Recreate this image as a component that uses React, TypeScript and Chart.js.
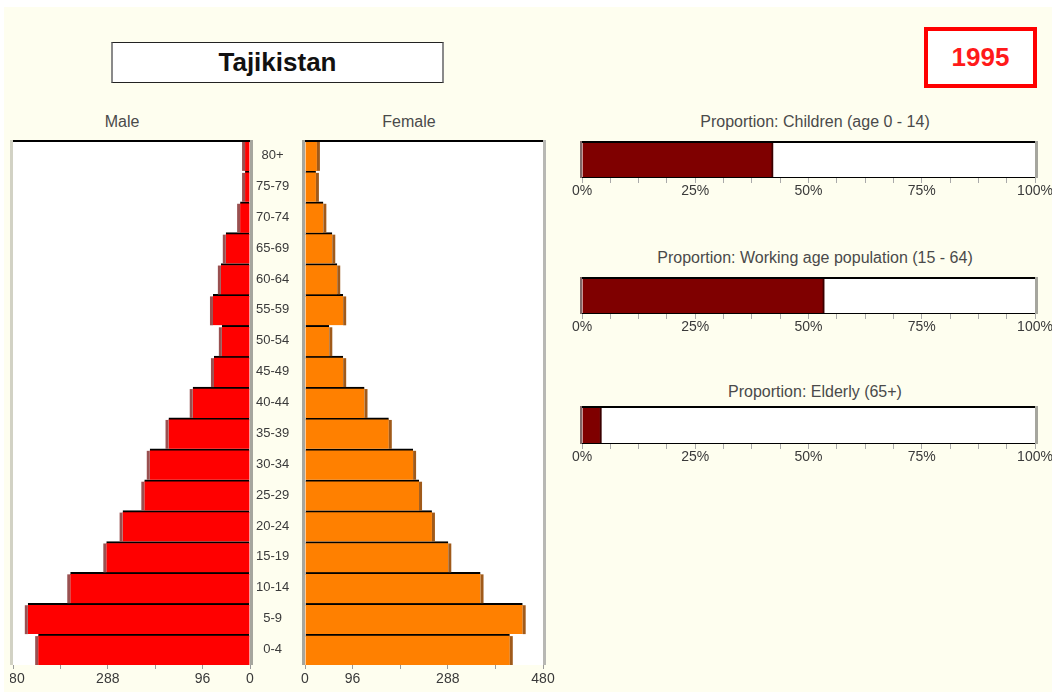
import React, { useEffect, useRef } from 'react';
import { Chart, registerables } from 'chart.js';

Chart.register(...registerables);

// ---------------- DATA ----------------
const ageGroups = ['0-4', '5-9', '10-14', '15-19', '20-24', '25-29', '30-34', '35-39', '40-44', '45-49', '50-54', '55-59', '60-64', '65-69', '70-74', '75-79', '80+'];
const maleValues = [429, 450, 364, 291, 258, 214, 203, 165, 116, 73, 57, 75, 59, 49, 20, 10, 10];
const femaleValues = [413, 439, 354, 289, 256, 230, 218, 169, 120, 77, 49, 77, 65, 55, 37, 22, 24];
const populationMax = 480;
const populationStep = 96;
const populationLabeledTicks = [0, 96, 288, 480];
const proportionTitles = ['Proportion: Children (age 0 - 14)', 'Proportion: Working age population (15 - 64)', 'Proportion: Elderly (65+)'];
const proportionValues = [42.2, 53.5, 4.3];
const percentStep = 6.25;
const percentLabeledTicks = [0, 25, 50, 75, 100];
const countryName = 'Tajikistan';
const yearLabel = '1995';
const sexLabels = ['Male', 'Female'];

// ---------------- STYLE ----------------
const FONT = '"Liberation Sans", Arial, sans-serif';
const TEXT = '#3a3a3a';
const CREAM = '#FEFEEF';

const framePlugin = {
  id: 'frame',
  beforeDraw(chart: any, _a: any, opts: any) {
    const { ctx, chartArea: a } = chart;
    if (!opts || !opts.fill) return;
    ctx.save();
    ctx.fillStyle = opts.fill;
    ctx.fillRect(a.left, a.top, a.right - a.left, a.bottom - a.top);
    ctx.restore();
  },
  afterDatasetsDraw(chart: any, _a: any, opts: any) {
    const { ctx, chartArea: a } = chart;
    const h = a.bottom - a.top;
    const w = a.right - a.left;
    ctx.save();
    if (opts.leftColor) { ctx.fillStyle = opts.leftColor; ctx.fillRect(a.left - opts.leftWidth, a.top, opts.leftWidth, h); }
    if (opts.rightColor) { ctx.fillStyle = opts.rightColor; ctx.fillRect(a.right, a.top, opts.rightWidth, h); }
    if (opts.topColor) { ctx.fillStyle = opts.topColor; ctx.fillRect(a.left, a.top, w, opts.topWidth); }
    if (opts.bottomColor) { ctx.fillStyle = opts.bottomColor; ctx.fillRect(a.left, a.bottom - opts.bottomWidth, w, opts.bottomWidth); }
    ctx.restore();
  },
};

const shadowPlugin = {
  id: 'barShadow',
  afterDatasetsDraw(chart: any, _a: any, opts: any) {
    if (!opts || !opts.color) return;
    const { ctx } = chart;
    const meta = chart.getDatasetMeta(0);
    ctx.save();
    ctx.fillStyle = opts.color;
    meta.data.forEach((el: any) => {
      const { x, y, height } = el.getProps(['x', 'y', 'height'], true);
      const top = y - height / 2 + opts.skipTop;
      const hh = height - opts.skipTop;
      if (opts.side === 'left') ctx.fillRect(x - opts.width, top, opts.width, hh);
      else ctx.fillRect(x, top, opts.width, hh);
    });
    ctx.restore();
  },
};

function pyramidConfig(side: 'male' | 'female'): any {
  const isMale = side === 'male';
  const yScale: any = isMale
    ? {
        display: true,
        position: 'right',
        reverse: true,
        ticks: { crossAlign: 'center', padding: 6, autoSkip: false, color: TEXT, font: { family: FONT, size: 13 } },
        grid: { display: false, drawTicks: false },
        border: { display: false },
        afterFit: (s: any) => { s.width = 55; s.paddingTop = 0; s.paddingBottom = 0; },
      }
    : { display: false, reverse: true };
  return {
    type: 'bar',
    data: {
      labels: ageGroups,
      datasets: [{
        data: isMale ? maleValues : femaleValues,
        backgroundColor: isMale ? '#FF0000' : '#FF8000',
        borderColor: '#000000',
        borderWidth: { top: 2, right: 0, bottom: 0, left: 0 },
        borderSkipped: false,
        barPercentage: 1,
        categoryPercentage: 1,
      }],
    },
    plugins: [framePlugin, shadowPlugin],
    options: {
      indexAxis: 'y',
      animation: false,
      responsive: false,
      maintainAspectRatio: false,
      layout: { padding: isMale ? { left: 3, right: 0, top: 6, bottom: 0 } : { left: 10, right: 17, top: 6, bottom: 0 } },
      plugins: {
        legend: { display: false },
        tooltip: { enabled: false },
        frame: isMale
          ? { fill: '#FFFFFF', topColor: '#000', topWidth: 2, leftColor: '#d2d2c4', leftWidth: 3, rightColor: '#a6a69e', rightWidth: 3 }
          : { fill: '#FFFFFF', topColor: '#000', topWidth: 2, leftColor: '#a6a69e', leftWidth: 3, rightColor: '#b8b8b4', rightWidth: 3 },
        barShadow: isMale
          ? { color: '#9a5050', side: 'left', width: 3, skipTop: 2 }
          : { color: '#a05a1a', side: 'right', width: 3, skipTop: 2 },
      },
      scales: {
        x: {
          reverse: isMale,
          min: 0,
          max: populationMax,
          ticks: {
            stepSize: populationStep,
            autoSkip: false,
            maxRotation: 0,
            padding: 2,
            color: TEXT,
            font: { family: FONT, size: 14 },
            callback: (v: number) => (populationLabeledTicks.includes(v) ? String(v) : ''),
          },
          grid: { drawOnChartArea: false, drawTicks: true, tickLength: 4, color: '#9a9a9a' },
          border: { display: false },
          afterFit: (s: any) => { s.height = 27; s.paddingLeft = 0; s.paddingRight = 0; },
        },
        y: yScale,
      },
    },
  };
}

function proportionConfig(i: number): any {
  return {
    type: 'bar',
    data: {
      labels: [proportionTitles[i]],
      datasets: [{
        data: [proportionValues[i]],
        backgroundColor: '#7F0000',
        borderColor: '#3a0000',
        borderWidth: { top: 0, right: 2, bottom: 0, left: 0 },
        borderSkipped: false,
        barPercentage: 1,
        categoryPercentage: 1,
      }],
    },
    plugins: [framePlugin],
    options: {
      indexAxis: 'y',
      animation: false,
      responsive: false,
      maintainAspectRatio: false,
      layout: { padding: { left: 22, right: 17, top: 6, bottom: 0 } },
      plugins: {
        legend: { display: false },
        tooltip: { enabled: false },
        frame: { fill: '#FFFFFF', topColor: '#000', topWidth: 2, bottomColor: '#000', bottomWidth: 1, leftColor: '#806868', leftWidth: 2, rightColor: '#a6a69e', rightWidth: 3 },
      },
      scales: {
        x: {
          min: 0,
          max: 100,
          ticks: {
            stepSize: percentStep,
            autoSkip: false,
            maxRotation: 0,
            padding: 0,
            color: TEXT,
            font: { family: FONT, size: 14 },
            callback: (v: number) => (percentLabeledTicks.includes(v) ? `${v}%` : ''),
          },
          grid: { drawOnChartArea: false, drawTicks: true, tickLength: 5, color: '#aaaaaa' },
          border: { display: false },
          afterFit: (s: any) => { s.height = 22; s.paddingLeft = 0; s.paddingRight = 0; },
        },
        y: { display: false },
      },
    },
  };
}

function ChartCanvas({ left, top, width, height, build }: { left: number; top: number; width: number; height: number; build: () => any }) {
  const ref = useRef<HTMLCanvasElement>(null);
  useEffect(() => {
    const chart = new Chart(ref.current as HTMLCanvasElement, build());
    return () => chart.destroy();
  }, []);
  return (
    <canvas
      ref={ref}
      width={width}
      height={height}
      style={{ position: 'absolute', left, top, width, height }}
    />
  );
}

const labelStyle: React.CSSProperties = {
  position: 'absolute',
  fontFamily: FONT,
  fontSize: 16,
  lineHeight: '20px',
  color: '#4a4a4a',
  textAlign: 'center',
  whiteSpace: 'nowrap',
};

const propLayout = [
  { titleTop: 112, canvasTop: 135, height: 65 },
  { titleTop: 248, canvasTop: 271, height: 65 },
  { titleTop: 382, canvasTop: 400, height: 66 },
];

export default function App() {
  return (
    <div style={{ position: 'fixed', left: 0, top: 0, width: 1052, height: 692, background: '#FFFFFF', overflow: 'hidden' }}>
      <div style={{ position: 'absolute', left: 4, top: 7, right: 0, bottom: 0, background: CREAM }} />

      <div style={{
        position: 'absolute', left: 111, top: 42, width: 333, height: 41, boxSizing: 'border-box',
        background: '#FFFFFF', borderTop: '1px solid #222', borderBottom: '1px solid #222',
        borderLeft: '2px solid #8a8a8a', borderRight: '2px solid #8a8a8a',
        display: 'flex', alignItems: 'center', justifyContent: 'center',
        fontFamily: FONT, fontWeight: 'bold', fontSize: 26, color: '#111',
      }}>{countryName}</div>

      <div style={{
        position: 'absolute', left: 924, top: 27, width: 113, height: 61, boxSizing: 'border-box',
        background: '#FFFFFF', border: '4px solid #FF0000',
        display: 'flex', alignItems: 'center', justifyContent: 'center',
        fontFamily: FONT, fontWeight: 'bold', fontSize: 26, color: '#FF1a1a',
      }}>{yearLabel}</div>

      <div style={{ ...labelStyle, left: 72, top: 112, width: 100 }}>{sexLabels[0]}</div>
      <div style={{ ...labelStyle, left: 359, top: 112, width: 100 }}>{sexLabels[1]}</div>

      <ChartCanvas left={10} top={134} width={295} height={558} build={() => pyramidConfig('male')} />
      <ChartCanvas left={295} top={134} width={265} height={558} build={() => pyramidConfig('female')} />

      {propLayout.map((p, i) => (
        <React.Fragment key={i}>
          <div style={{ ...labelStyle, left: 565, top: p.titleTop, width: 500 }}>{proportionTitles[i]}</div>
          <ChartCanvas left={560} top={p.canvasTop} width={492} height={p.height} build={() => proportionConfig(i)} />
        </React.Fragment>
      ))}
    </div>
  );
}
